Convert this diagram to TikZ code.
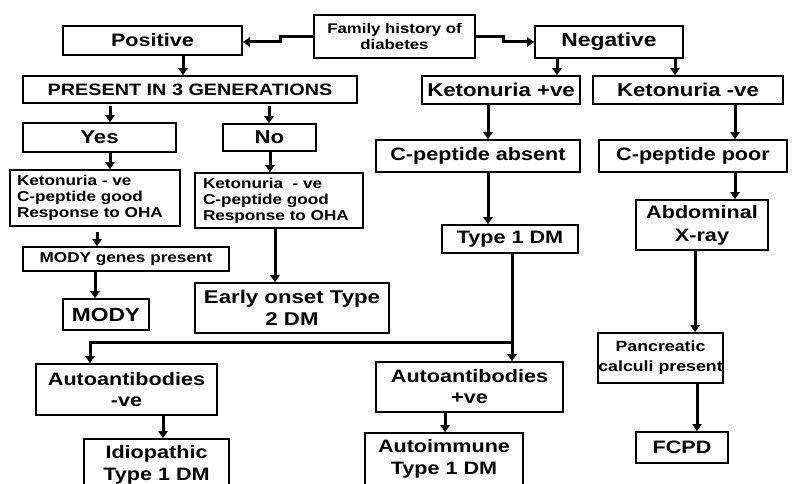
\documentclass[tikz,border=0pt]{standalone}
\usepackage{fontspec}
\setmainfont{Liberation Sans}[FakeStretch=1.2]
\usetikzlibrary{arrows.meta}
\newcommand\fs[2]{\fontsize{#1}{#2}\selectfont\bfseries}
\begin{document}
\begin{tikzpicture}[x=1pt,y=-1pt,
  box/.style={draw, line width=1.6pt, inner sep=0pt, align=center},
  arr/.style={line width=3pt, -{Triangle[length=7pt,width=9pt]}},
  ln/.style={line width=3pt}]
\clip (0,0) rectangle (792,484);
\fill[white] (0,0) rectangle (792,484);
% nodes
\node[box, minimum width=161, minimum height=43, font=\fs{14}{16}] (fam) at (394.5,36.5) {Family history of\\diabetes};
\node[box, minimum width=179, minimum height=29, font=\fs{18}{21}] (pos) at (152.5,40.5) {Positive};
\node[box, minimum width=148, minimum height=32, font=\fs{19}{21}] (neg) at (609,42) {Negative};
\node[box, minimum width=334, minimum height=27, font=\fs{16.5}{20}] (pres) at (190,89.5) {PRESENT IN 3 GENERATIONS};
\node[box, minimum width=158, minimum height=28, font=\fs{18.5}{21}] (ketp) at (501,90) {Ketonuria +ve};
\node[box, minimum width=190, minimum height=28, font=\fs{18.5}{21}] (ketn) at (688,90) {Ketonuria -ve};
\node[box, minimum width=153, minimum height=29, font=\fs{18.5}{21}] (yes) at (99.5,137.5) {Yes};
\node[box, minimum width=93, minimum height=27, font=\fs{18.5}{21}] (no) at (269.5,137.5) {No};
\node[box, minimum width=204, minimum height=32, font=\fs{18}{21}] (cpa) at (478,156) {C-peptide absent};
\node[box, minimum width=188, minimum height=32, font=\fs{18}{21}] (cpp) at (693,156) {C-peptide poor};
\node[box, minimum width=170, minimum height=56, inner xsep=7pt, text width=156, align=left, font=\fs{14.3}{16}] (kl) at (95,198) {Ketonuria - ve\\C-peptide good\\Response to OHA};
\node[box, minimum width=168, minimum height=55, inner xsep=8pt, text width=152, align=left, font=\fs{14.3}{16}] (kr) at (279,200.5) {Ketonuria \ - ve\\C-peptide good\\Response to OHA};
\node[box, minimum width=136, minimum height=28, font=\fs{18}{21}] (t1) at (510,239) {Type 1 DM};
\node[box, minimum width=132, minimum height=50, font=\fs{18}{23}] (ax) at (702,225) {Abdominal\\X-ray};
\node[box, minimum width=206, minimum height=24, font=\fs{14.3}{18}] (mg) at (126,259) {MODY genes present};
\node[box, minimum width=86, minimum height=31, font=\fs{19}{22}] (mody) at (106,314.5) {MODY};
\node[box, minimum width=194, minimum height=50, font=\fs{18.5}{22}] (early) at (292,308) {Early onset Type\\2 DM};
\node[box, minimum width=125, minimum height=50, font=\fs{14.8}{20}] (pan) at (660.5,358) {Pancreatic\\calculi present};
\node[box, minimum width=92, minimum height=31, font=\fs{18}{21}] (fcpd) at (682,447.5) {FCPD};
\node[box, minimum width=181, minimum height=51, font=\fs{18}{21}] (aneg) at (126.5,389.5) {Autoantibodies\\-ve};
\node[box, minimum width=187, minimum height=50, font=\fs{18}{21}] (apos) at (469.5,387) {Autoantibodies\\+ve};
\node[box, minimum width=145, minimum height=52, font=\fs{18}{22}] (idio) at (156.5,465) {Idiopathic\\Type 1 DM};
\node[box, minimum width=158, minimum height=52, font=\fs{18}{22}] (auti) at (444,459) {Autoimmune\\Type 1 DM};
% connectors
\draw[arr] (fam.west |- 0,37) -- (280,37) -- (280,42) -- (pos.east |- 0,42);
\draw[arr] (fam.east |- 0,37) -- (503,37) -- (503,42) -- (neg.west |- 0,42);
\draw[arr] (183,0 |- pos.south) -- (183,0 |- pres.north);
\draw[arr] (110,106) -- (110,0 |- yes.north);
\draw[arr] (269,106) -- (269,0 |- no.north);
\draw[arr] (557,0 |- neg.south) -- (557,0 |- ketp.north);
\draw[arr] (675,0 |- neg.south) -- (675,0 |- ketn.north);
\draw[arr] (488,0 |- ketp.south) -- (488,0 |- cpa.north);
\draw[arr] (735,0 |- ketn.south) -- (735,0 |- cpp.north);
\draw[arr] (110,0 |- yes.south) -- (110,0 |- kl.north);
\draw[arr] (270,0 |- no.south) -- (270,0 |- kr.north);
\draw[arr] (97,232) -- (97,0 |- mg.north);
\draw[arr] (275,0 |- kr.south) -- (275,0 |- early.north);
\draw[arr] (95,0 |- mg.south) -- (95,0 |- mody.north);
\draw[arr] (488,0 |- cpa.south) -- (488,0 |- t1.north);
\draw[arr] (735,0 |- cpp.south) -- (735,0 |- ax.north);
\draw[arr] (695,0 |- ax.south) -- (695,0 |- pan.north);
\draw[arr] (697,0 |- pan.south) -- (697,0 |- fcpd.north);
\coordinate (split) at (512,342);
\draw[ln] (512,0 |- t1.south) -- (split);
\draw[arr] (split) -- (90,342) -- (90,0 |- aneg.north);
\draw[arr] (split) -- (512,0 |- apos.north);
\draw[arr] (163,0 |- aneg.south) -- (163,0 |- idio.north);
\draw[arr] (445,0 |- apos.south) -- (445,0 |- auti.north);
\end{tikzpicture}
\end{document}
